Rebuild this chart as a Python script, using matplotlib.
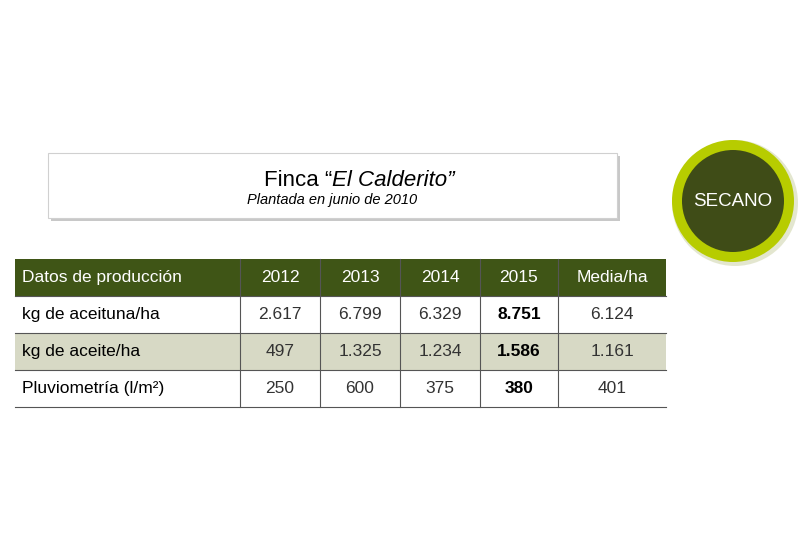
import matplotlib
matplotlib.use("Agg")
import matplotlib.pyplot as plt
from matplotlib.patches import Rectangle, Circle

title = "Finca \u201c"
title_it = "El Calderito\u201d"
subtitle = "Plantada en junio de 2010"
badge = "SECANO"
header = ["Datos de producción", "2012", "2013", "2014", "2015", "Media/ha"]
row_labels = ["kg de aceituna/ha", "kg de aceite/ha", "Pluviometría (l/m²)"]
aceituna = ["2.617", "6.799", "6.329", "8.751", "6.124"]
aceite = ["497", "1.325", "1.234", "1.586", "1.161"]
pluvio = ["250", "600", "375", "380", "401"]
rows = [aceituna, aceite, pluvio]

FONT = "Liberation Sans"
fig = plt.figure(figsize=(8, 5.33), dpi=100)
ax = fig.add_axes([0, 0, 1, 1])
ax.set_xlim(0, 800); ax.set_ylim(533, 0); ax.axis("off")

# title box with shadow
ax.add_patch(Rectangle((51, 156), 569, 65, fc="#c8c8c8", ec="none", zorder=1))
ax.add_patch(Rectangle((48, 153), 569, 65, fc="white", ec="#d0d0d0", lw=0.8, zorder=2))
ax.text(332, 180, title, ha="right", va="center", fontsize=16, family=FONT, zorder=3)
ax.text(332, 180, title_it, ha="left", va="center", fontsize=16, family=FONT, style="italic", zorder=3)
ax.text(332, 200, subtitle, ha="center", va="center", fontsize=10.5, family=FONT, style="italic", zorder=3)

# badge
ax.add_patch(Circle((735, 203), 63, fc="#c8cfa0", ec="none", alpha=0.5, zorder=1))
ax.add_patch(Circle((733, 201), 61, fc="#b7cc00", ec="none", zorder=2))
ax.add_patch(Circle((733, 201), 51, fc="#3f4c17", ec="none", zorder=3))
ax.text(733, 202, badge, ha="center", va="center", fontsize=13.5, family=FONT, color="white", zorder=4)

# table
xs = [15, 240, 320, 400, 480, 558, 666]
ys = [259, 296, 333, 370, 407]
ax.add_patch(Rectangle((xs[0], ys[0]), xs[-1]-xs[0], ys[1]-ys[0], fc="#3f5516", ec="none"))
ax.add_patch(Rectangle((xs[0], ys[2]), xs[-1]-xs[0], ys[3]-ys[2], fc="#d7d9c5", ec="none"))
for x in xs[1:-1]:
    ax.plot([x, x], [ys[0], ys[-1]], color="#555555", lw=0.8)
for y in ys[1:]:
    ax.plot([xs[0], xs[-1]], [y, y], color="#555555", lw=0.8)
for i, h in enumerate(header):
    if i == 0:
        ax.text(xs[0]+7, (ys[0]+ys[1])/2, h, ha="left", va="center", fontsize=12.5, family=FONT, color="white")
    else:
        ax.text((xs[i]+xs[i+1])/2, (ys[0]+ys[1])/2, h, ha="center", va="center", fontsize=12.5, family=FONT, color="white")
for r, (lab, vals) in enumerate(zip(row_labels, rows)):
    yc = (ys[r+1]+ys[r+2])/2
    ax.text(xs[0]+7, yc, lab, ha="left", va="center", fontsize=12.5, family=FONT, color="black")
    for j, v in enumerate(vals):
        ax.text((xs[j+1]+xs[j+2])/2, yc, v, ha="center", va="center", fontsize=12.5, family=FONT,
                color="black" if j == 3 else "#333333", weight="bold" if j == 3 else "normal")

fig.savefig("out.png", dpi=100)
